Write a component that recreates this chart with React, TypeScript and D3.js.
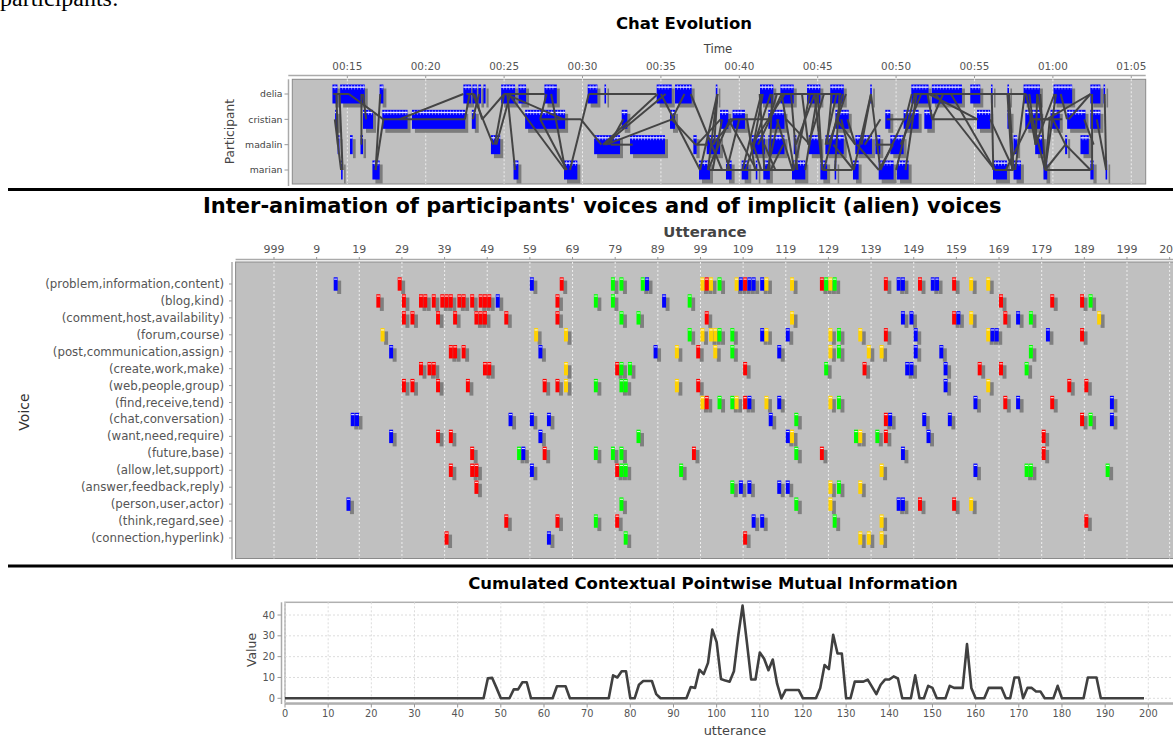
import React from "react";
import * as d3 from "d3";

const W = 1173;
const H = 738;
const SANS = "DejaVu Sans, sans-serif";

// ---------------- Chat Evolution ----------------
const participants = ["delia", "cristian", "madalin", "marian"];
const timeTickMinutes = [15, 20, 25, 30, 35, 40, 45, 50, 55, 60, 65];
const timeTickLabels = ["00:15", "00:20", "00:25", "00:30", "00:35", "00:40", "00:45", "00:50", "00:55", "01:00", "01:05"];

// utterance blocks [start minute, end minute]
const deliaBlocks: [number, number][] = [
  [14.05, 14.37], [14.54, 16.11], [17.06, 17.3], [22.4, 22.9], [22.98, 23.26], [23.36, 23.53], [23.68, 23.82],
  [24.81, 25.7], [25.91, 26.4], [27.57, 28.36], [30.33, 30.95], [31.4, 31.5], [34.73, 35.69], [35.9, 36.96],
  [38.5, 38.6], [41.32, 42.17], [42.62, 43.47], [44.32, 45.17], [45.8, 46.66], [48.35, 48.45], [50.97, 52.07],
  [52.28, 54.2], [54.73, 55.37], [56.05, 56.15], [57.1, 57.2], [58.13, 59.17], [60.04, 61.23], [62.39, 63.03],
  [63.23, 63.33],
];
const cristianBlocks: [number, number][] = [
  [14.22, 14.37], [16.0, 16.64], [17.23, 18.84], [19.12, 22.52], [22.94, 23.19], [26.34, 28.89], [32.5, 32.86],
  [35.58, 35.9], [38.77, 39.3], [39.57, 40.36], [41.85, 42.88], [46.13, 46.98], [49.31, 49.63], [50.48, 51.44],
  [51.8, 52.28], [55.16, 56.0], [57.1, 57.3], [58.24, 59.2], [59.85, 60.44], [60.91, 62.08], [62.39, 63.03],
];
const madalinBlocks: [number, number][] = [
  [14.38, 14.5], [15.17, 15.34], [15.84, 16.0], [24.16, 24.75], [30.74, 32.39], [33.03, 35.26], [37.07, 37.28],
  [37.92, 38.77], [40.78, 41.63], [41.85, 42.88], [43.47, 43.64], [44.43, 45.17], [45.49, 46.66], [47.4, 48.46],
  [48.68, 48.99], [49.63, 50.48], [57.49, 57.72], [58.87, 59.4], [60.78, 60.91], [61.76, 62.29],
];
const marianBlocks: [number, number][] = [
  [14.6, 14.7], [16.6, 17.06], [25.6, 25.91], [28.82, 29.67], [37.43, 38.13], [39.15, 39.51], [40.15, 40.57],
  [41.05, 41.15], [41.53, 41.95], [43.36, 44.21], [45.17, 45.6], [46.08, 46.18], [47.25, 47.61], [48.89, 49.84],
  [50.06, 50.8], [56.18, 57.07], [57.49, 57.96], [59.4, 59.64], [62.39, 62.6], [63.36, 63.46],
];

// reply links [minute A, participant A, minute B, participant B]
const replyLinks: [number, number, number, number][] = [
  [14.1, 0, 15.1, 0], [14.2, 1, 14.6, 3], [14.5, 0, 14.7, 3], [14.3, 0, 14.4, 2], [15.1, 0, 17.3, 1],
  [15.9, 0, 15.9, 2], [16.0, 0, 16.2, 1], [17.1, 0, 16.8, 3], [16.8, 3, 17.3, 1], [17.3, 1, 22.5, 1],
  [18.3, 1, 22.4, 0], [22.5, 1, 22.8, 0], [22.6, 0, 23.1, 0], [23.0, 0, 24.3, 2], [23.1, 0, 23.6, 1],
  [23.0, 1, 23.4, 0], [23.6, 1, 25.0, 0], [25.0, 0, 24.4, 2], [25.0, 0, 27.6, 0], [25.2, 0, 25.7, 3],
  [25.1, 0, 28.8, 1], [25.3, 0, 28.9, 3], [24.5, 2, 25.4, 0], [27.7, 0, 27.3, 1], [27.3, 1, 29.9, 1],
  [27.3, 1, 29.0, 3], [28.0, 0, 28.9, 3], [29.2, 3, 30.4, 0], [30.4, 0, 34.7, 0], [29.9, 1, 31.2, 2],
  [31.3, 2, 34.8, 0], [31.4, 2, 35.3, 0], [31.5, 2, 35.7, 1], [32.6, 1, 31.7, 2], [31.8, 2, 33.2, 2],
  [35.0, 0, 37.5, 3], [36.5, 0, 35.7, 1], [35.7, 1, 37.2, 2], [37.2, 2, 38.0, 2], [38.6, 0, 38.0, 3],
  [38.6, 0, 38.4, 2], [39.4, 1, 41.9, 1], [38.1, 3, 43.2, 3], [42.2, 0, 43.2, 0], [36.9, 0, 38.9, 3],
  [38.9, 1, 38.3, 3], [39.3, 1, 41.1, 3], [40.5, 1, 41.0, 3], [41.3, 0, 41.6, 3], [41.5, 0, 40.9, 2],
  [42.1, 0, 41.9, 3], [41.9, 1, 42.4, 0], [41.2, 2, 42.7, 0], [40.8, 2, 42.9, 0],
  [37.3, 2, 38.8, 1], [37.5, 3, 38.6, 0], [38.0, 3, 39.4, 1], [38.3, 2, 39.6, 1], [39.2, 3, 40.0, 1],
  [39.4, 3, 38.9, 2], [40.2, 3, 41.4, 0], [40.4, 3, 42.0, 0], [40.9, 2, 41.4, 3], [41.6, 2, 42.3, 3],
  [41.8, 3, 42.5, 1], [42.0, 3, 42.8, 2], [42.4, 1, 43.4, 3], [42.7, 0, 43.5, 3],
  [42.6, 0, 45.2, 0], [45.2, 0, 46.5, 0], [43.5, 3, 42.6, 3], [43.3, 0, 43.7, 3], [44.5, 0, 43.5, 3],
  [45.3, 3, 47.2, 3], [46.6, 0, 45.4, 3], [45.7, 2, 46.8, 0], [47.3, 3, 48.4, 0], [47.8, 2, 48.4, 0],
  [48.4, 0, 49.0, 3], [49.4, 1, 50.6, 1], [49.0, 3, 50.5, 1], [48.7, 2, 49.7, 2], [50.0, 3, 51.2, 0],
  [50.6, 3, 51.3, 0], [50.6, 1, 51.0, 0], [50.3, 2, 51.6, 0], [51.1, 0, 58.1, 0], [52.3, 1, 55.2, 1],
  [52.0, 0, 52.3, 1], [52.1, 0, 55.2, 1], [53.0, 0, 52.3, 1], [53.5, 0, 56.3, 3], [52.5, 0, 56.3, 3],
  [56.3, 3, 57.1, 3], [56.1, 0, 56.2, 3], [57.2, 0, 57.5, 3], [57.6, 3, 58.2, 0], [58.6, 1, 60.0, 1],
  [58.9, 2, 58.3, 0], [43.0, 1, 44.5, 2], [43.6, 2, 44.8, 0], [44.2, 3, 45.0, 0], [46.2, 1, 47.4, 2],
  [46.0, 2, 47.3, 3], [44.0, 0, 44.4, 2], [45.0, 0, 45.3, 3], [45.9, 0, 45.6, 2], [46.4, 0, 46.1, 3],
  [44.4, 2, 45.4, 0], [44.8, 0, 45.3, 3], [45.5, 2, 46.2, 0], [46.5, 1, 47.3, 3], [46.9, 1, 47.4, 2],
  [47.5, 2, 48.9, 3], [48.0, 2, 49.0, 1], [48.9, 3, 49.8, 2],
  [56.0, 1, 57.5, 3], [57.0, 3, 58.6, 1], [58.7, 1, 59.5, 3], [59.2, 0, 59.5, 3], [58.9, 2, 60.1, 0],
  [60.0, 1, 60.8, 2],
  [57.1, 0, 58.3, 0], [57.1, 0, 57.4, 3], [56.8, 3, 57.5, 3], [58.5, 1, 60.6, 1], [58.5, 0, 58.9, 2],
  [58.9, 2, 59.0, 0], [59.0, 0, 59.3, 1], [59.5, 3, 59.8, 1], [60.2, 0, 59.5, 3], [60.5, 0, 60.9, 1],
  [62.4, 0, 59.6, 1], [62.5, 0, 62.5, 3], [62.8, 1, 63.4, 3], [63.3, 0, 63.4, 3], [59.5, 3, 62.4, 3],
  [59.5, 3, 60.8, 2], [60.8, 2, 62.4, 3], [61.0, 1, 62.4, 0], [62.0, 1, 62.6, 2],
];

// ---------------- Inter-animation of voices ----------------
const voices = [
  "(problem,information,content)", "(blog,kind)", "(comment,host,availability)", "(forum,course)",
  "(post,communication,assign)", "(create,work,make)", "(web,people,group)", "(find,receive,tend)",
  "(chat,conversation)", "(want,need,require)", "(future,base)", "(allow,let,support)",
  "(answer,feedback,reply)", "(person,user,actor)", "(think,regard,see)", "(connection,hyperlink)",
];
const uttTickValues = [-1, 9, 19, 29, 39, 49, 59, 69, 79, 89, 99, 109, 119, 129, 139, 149, 159, 169, 179, 189, 199, 209];
const uttTickLabels = ["999", "9", "19", "29", "39", "49", "59", "69", "79", "89", "99", "109", "119", "129", "139", "149", "159", "169", "179", "189", "199", "209"];
const voiceColors: Record<string, string> = { b: "#0000ff", r: "#ff0000", g: "#00ff00", y: "#ffd200" };

// per voice: [utterance, participant colour code]
const voiceMarks: [number, string][][] = [
  [[13, "b"], [28, "r"], [59, "b"], [66, "r"], [78, "g"], [80, "g"], [85, "g"], [86, "b"], [99, "y"], [100, "r"], [101, "y"], [103, "g"], [107, "y"], [108, "b"], [109, "r"], [110, "b"], [111, "b"], [113, "b"], [114, "y"], [120, "y"], [127, "r"], [128, "g"], [129, "y"], [130, "g"], [142, "r"], [145, "b"], [146, "b"], [150, "r"], [153, "b"], [154, "b"], [158, "r"], [162, "y"], [166, "y"]],
  [[23, "r"], [29, "r"], [33, "r"], [34, "r"], [36, "r"], [38, "r"], [39, "r"], [40, "r"], [42, "r"], [43, "r"], [45, "r"], [47, "r"], [48, "r"], [49, "r"], [51, "b"], [65, "r"], [74, "g"], [78, "g"], [90, "b"], [96, "g"], [169, "r"], [181, "r"], [188, "r"], [190, "g"]],
  [[29, "r"], [31, "r"], [37, "r"], [41, "r"], [46, "r"], [47, "r"], [48, "r"], [53, "r"], [65, "r"], [80, "g"], [84, "g"], [100, "r"], [120, "y"], [146, "b"], [148, "b"], [158, "r"], [159, "b"], [162, "y"], [170, "r"], [173, "b"], [176, "g"], [192, "y"]],
  [[24, "y"], [60, "y"], [67, "y"], [96, "g"], [99, "y"], [101, "y"], [102, "y"], [103, "g"], [106, "g"], [113, "b"], [114, "y"], [119, "b"], [129, "y"], [131, "g"], [136, "y"], [142, "r"], [149, "b"], [166, "y"], [167, "b"], [168, "b"], [180, "b"], [188, "r"]],
  [[26, "b"], [40, "r"], [41, "r"], [43, "r"], [61, "b"], [88, "b"], [93, "y"], [98, "r"], [102, "y"], [106, "g"], [117, "b"], [129, "y"], [131, "g"], [138, "y"], [141, "y"], [149, "b"], [155, "b"], [176, "g"]],
  [[33, "r"], [35, "r"], [36, "r"], [48, "r"], [49, "r"], [67, "y"], [79, "r"], [80, "g"], [82, "g"], [109, "r"], [128, "g"], [137, "r"], [147, "b"], [148, "b"], [156, "b"], [164, "r"], [169, "r"], [175, "g"]],
  [[29, "r"], [31, "r"], [37, "r"], [44, "r"], [62, "r"], [65, "r"], [67, "y"], [74, "g"], [80, "g"], [81, "g"], [93, "y"], [98, "r"], [156, "b"], [166, "y"], [185, "r"], [189, "r"]],
  [[99, "y"], [100, "r"], [103, "g"], [106, "g"], [107, "y"], [109, "r"], [110, "b"], [114, "y"], [117, "b"], [129, "y"], [131, "g"], [163, "b"], [170, "r"], [173, "b"], [181, "r"], [195, "b"]],
  [[17, "b"], [18, "b"], [54, "b"], [59, "b"], [63, "b"], [115, "b"], [121, "g"], [142, "r"], [143, "b"], [151, "b"], [157, "b"], [188, "r"], [190, "g"], [195, "b"]],
  [[26, "b"], [37, "r"], [40, "r"], [61, "b"], [84, "g"], [119, "b"], [120, "y"], [135, "g"], [136, "y"], [140, "g"], [142, "r"], [152, "b"], [179, "r"]],
  [[45, "r"], [56, "g"], [57, "b"], [62, "r"], [74, "g"], [78, "g"], [80, "g"], [97, "r"], [121, "g"], [127, "r"], [146, "b"], [179, "r"]],
  [[40, "r"], [45, "r"], [46, "r"], [59, "b"], [79, "r"], [80, "g"], [81, "g"], [94, "g"], [141, "y"], [163, "b"], [175, "g"], [176, "g"], [194, "g"]],
  [[46, "r"], [106, "g"], [108, "b"], [110, "b"], [117, "b"], [119, "b"], [129, "y"], [131, "g"], [136, "y"]],
  [[16, "b"], [80, "g"], [121, "g"], [129, "y"], [145, "b"], [146, "b"], [150, "r"], [158, "r"], [162, "y"]],
  [[53, "r"], [65, "r"], [74, "g"], [79, "r"], [111, "b"], [113, "b"], [130, "g"], [141, "y"], [189, "r"]],
  [[39, "r"], [63, "b"], [81, "g"], [109, "r"], [136, "y"], [138, "y"], [141, "y"]],
];

// ---------------- Cumulated CPMI ----------------
const cpmiTicksX = [0, 10, 20, 30, 40, 50, 60, 70, 80, 90, 100, 110, 120, 130, 140, 150, 160, 170, 180, 190, 200];
const cpmiTicksY = [0, 10, 20, 30, 40];
const cpmiValues = [
  0, 0, 0, 0, 0, 0, 0, 0, 0, 0, 0, 0, 0, 0, 0, 0, 0, 0, 0, 0,
  0, 0, 0, 0, 0, 0, 0, 0, 0, 0, 0, 0, 0, 0, 0, 0, 0, 0, 0, 0,
  0, 0, 0, 0, 0, 0, 0, 9.6, 9.8, 5, 0, 0, 0, 4.3, 4.3, 7.7, 7.7, 0, 0, 0,
  0, 0, 0, 5.8, 5.8, 5.8, 0, 0, 0, 0, 0, 0, 0, 0, 0, 0, 11, 10, 13, 13,
  0, 0, 6.5, 8.3, 8.3, 8.3, 2, 0, 0, 0, 0, 0, 0, 0, 5.4, 5, 13.7, 11.6, 17, 33,
  27, 9.3, 8.5, 8, 13, 30, 44.5, 27, 9, 9, 22, 19, 13.5, 18.6, 7, 0, 4, 4, 4, 4,
  0, 0, 0, 0, 5, 16, 14, 30.5, 21.5, 21.5, 0, 0, 8, 8, 8, 9, 5.5, 2, 6.5, 9,
  9, 10.5, 9.5, 0, 0, 0, 11, 0, 0, 6, 5, 0, 0, 0, 6, 5, 5, 5, 26, 5,
  0, 0, 0, 5, 5, 5, 5, 0, 0, 10, 10, 0, 5, 5, 3.3, 3.3, 0, 0, 0, 6,
  0, 0, 0, 0, 0, 0, 10, 10, 10, 0, 0, 0, 0, 0, 0, 0, 0, 0, 0, 0,
];

export default function App() {
  // --- top chart scales
  const xT = d3.scaleLinear().domain([11.49, 65.92]).range([292.3, 1145.7]);
  const yT = d3.scalePoint<string>().domain(participants).range([94, 170]);
  const blockSets = [deliaBlocks, cristianBlocks, madalinBlocks, marianBlocks];
  const topPlot = { x0: 292.3, x1: 1145.7, y0: 79.3, y1: 184 };

  // --- middle chart scales
  const xM = d3.scaleLinear().domain([-10, 211]).range([235.6, 235.6 + 221 * 4.265]);
  const yM = d3.scalePoint<string>().domain(voices).range([284, 538]);
  const midPlot = { x0: 235.6, x1: 1185, y0: 262, y1: 558.5 };

  // --- bottom chart scales
  const xB = d3.scaleLinear().domain([0, 200]).range([285, 1148.3]);
  const yB = d3.scaleLinear().domain([0, 40]).range([698.3, 615]);
  const botPlot = { x0: 285, x1: 1190, y0: 602.3, y1: 703 };
  const linePath = d3
    .line<number>()
    .x((_, i) => xB(i))
    .y((d) => yB(d))(cpmiValues) as string;

  return (
    <svg
      width={W}
      height={H}
      style={{ position: "absolute", left: 0, top: 0, background: "#fff" }}
      fontFamily={SANS}
    >
      <rect x={0} y={0} width={W} height={H} fill="#fff" />
      <text x={0} y={6} fontFamily="Liberation Serif, serif" fontSize={24} fill="#000">
        participants:
      </text>

      {/* ================= TOP: Chat Evolution ================= */}
      <text x={684} y={29} textAnchor="middle" fontWeight="bold" fontSize={16.5} fill="#000">
        Chat Evolution
      </text>
      <text x={718} y={52.5} textAnchor="middle" fontSize={11.7} fill="#444">
        Time
      </text>
      {timeTickMinutes.map((m, i) => (
        <g key={"tt" + i}>
          <text x={xT(m)} y={70} textAnchor="middle" fontSize={10.4} fill="#555">
            {timeTickLabels[i]}
          </text>
          <line x1={xT(m)} x2={xT(m)} y1={75.5} y2={78} stroke="#999" />
        </g>
      ))}
      <line x1={topPlot.x0 - 4} x2={topPlot.x1} y1={75.5} y2={75.5} stroke="#aaa" strokeWidth={1.5} />
      <rect
        x={topPlot.x0}
        y={topPlot.y0}
        width={topPlot.x1 - topPlot.x0}
        height={topPlot.y1 - topPlot.y0}
        fill="#c0c0c0"
        stroke="#8a8a8a"
      />
      {timeTickMinutes.map((m, i) => (
        <line key={"tg" + i} x1={xT(m)} x2={xT(m)} y1={topPlot.y0} y2={topPlot.y1} stroke="#eeeeee" strokeDasharray="2,2" />
      ))}
      <line x1={288.5} x2={288.5} y1={topPlot.y0} y2={topPlot.y1 + 2} stroke="#aaa" strokeWidth={1.5} />
      {participants.map((p) => (
        <g key={"pl" + p}>
          <line x1={284.5} x2={288.5} y1={yT(p)!} y2={yT(p)!} stroke="#999" />
          <text x={282.5} y={yT(p)! + 3.3} textAnchor="end" fontSize={9.3} fill="#444">
            {p}
          </text>
        </g>
      ))}
      <text transform="translate(234,131.7) rotate(-90)" textAnchor="middle" fontSize={12.2} fill="#444">
        Participant
      </text>
      {/* utterance shadows */}
      {blockSets.map((blocks, pi) =>
        blocks.map(([a, b], bi) => (
          <rect
            key={"ts" + pi + "_" + bi}
            x={xT(a) + 3}
            y={yT(participants[pi])! - 9.5 + 4}
            width={Math.max(1.6, xT(b) - xT(a))}
            height={19}
            fill="#7c7c7c"
          />
        ))
      )}
      {blockSets.map((blocks, pi) =>
        blocks.map(([a, b], bi) => {
          const x = xT(a);
          const w = Math.max(1.6, xT(b) - xT(a));
          const y = yT(participants[pi])! - 9.5;
          const stripes = d3.range(x + 2.5, x + w - 1, 3);
          return (
            <g key={"tb" + pi + "_" + bi}>
              <rect x={x} y={y} width={w} height={19} fill="#0000ff" />
              {stripes.map((sx, si) => (
                <line key={si} x1={sx} x2={sx} y1={y + 0.5} y2={y + 5} stroke="#a8a8ff" strokeWidth={0.7} />
              ))}
              <rect x={x} y={y + 2} width={w} height={1.3} fill="#e8e8ff" />
            </g>
          );
        })
      )}
      {replyLinks.map(([t1, p1, t2, p2], i) => (
        <line
          key={"rl" + i}
          x1={xT(t1)}
          y1={yT(participants[p1])!}
          x2={xT(t2)}
          y2={yT(participants[p2])!}
          stroke="#444"
          strokeWidth={2}
        />
      ))}

      {/* separator */}
      <line x1={8} x2={W} y1={189.5} y2={189.5} stroke="#000" strokeWidth={3} />

      {/* ================= MIDDLE: voices ================= */}
      <text x={203} y={212.7} fontWeight="bold" fontSize={21} fill="#000">
        Inter-animation of participants' voices and of implicit (alien) voices
      </text>
      <text x={705} y={236.5} textAnchor="middle" fontWeight="bold" fontSize={14.9} fill="#444">
        Utterance
      </text>
      <line x1={midPlot.x0} x2={W} y1={259.5} y2={259.5} stroke="#aaa" strokeWidth={1.5} />
      {uttTickValues.map((v, i) => (
        <g key={"ut" + i}>
          <text x={xM(v)} y={253.3} textAnchor="middle" fontSize={11} fill="#555">
            {uttTickLabels[i]}
          </text>
          <line x1={xM(v)} x2={xM(v)} y1={257} y2={259.5} stroke="#999" />
        </g>
      ))}
      <rect
        x={midPlot.x0}
        y={midPlot.y0}
        width={midPlot.x1 - midPlot.x0}
        height={midPlot.y1 - midPlot.y0}
        fill="#c0c0c0"
        stroke="#8a8a8a"
      />
      {uttTickValues.map((v, i) => (
        <line key={"ug" + i} x1={xM(v)} x2={xM(v)} y1={midPlot.y0} y2={midPlot.y1} stroke="#eeeeee" strokeDasharray="2,2" />
      ))}
      <line x1={232} x2={232} y1={midPlot.y0} y2={midPlot.y1 + 1} stroke="#aaa" strokeWidth={1.5} />
      {voices.map((v) => (
        <g key={"vl" + v}>
          <line x1={229} x2={232} y1={yM(v)!} y2={yM(v)!} stroke="#999" />
          <text x={224} y={yM(v)! + 4} textAnchor="end" fontSize={11.8} fill="#555">
            {v}
          </text>
        </g>
      ))}
      <text transform="translate(29,412) rotate(-90)" textAnchor="middle" fontSize={14} fill="#333">
        Voice
      </text>
      {voiceMarks.map((marks, ri) => {
        const cy = yM(voices[ri])!;
        return (
          <g key={"vm" + ri}>
            {marks.map(([u], mi) => (
              <rect
                key={"s" + mi}
                x={xM(u) + 3.5}
                y={cy - 6.7 + 3.3}
                width={xM(u + 1) - xM(u) - 0.3}
                height={13.4}
                fill="#7f7f7f"
              />
            ))}
            {marks.map(([u, c], mi) => {
              const x = xM(u);
              const w = xM(u + 1) - xM(u) - 0.3;
              return (
                <g key={"m" + mi}>
                  <rect x={x} y={cy - 6.7} width={w} height={13.4} fill={voiceColors[c]} />
                  <rect x={x + 0.4} y={cy - 5.4} width={w - 0.8} height={1.1} fill="#ffffff" opacity={0.85} />
                </g>
              );
            })}
          </g>
        );
      })}

      {/* separator */}
      <line x1={8} x2={W} y1={566} y2={566} stroke="#000" strokeWidth={3} />

      {/* ================= BOTTOM: CPMI ================= */}
      <text x={713} y={589} textAnchor="middle" fontWeight="bold" fontSize={16.5} fill="#000">
        Cumulated Contextual Pointwise Mutual Information
      </text>
      <rect
        x={botPlot.x0}
        y={botPlot.y0}
        width={botPlot.x1 - botPlot.x0}
        height={botPlot.y1 - botPlot.y0}
        fill="#ffffff"
        stroke="#b0b0b0"
        strokeWidth={1.5}
      />
      {cpmiTicksX.map((v) => (
        <line key={"bgx" + v} x1={xB(v)} x2={xB(v)} y1={botPlot.y0} y2={botPlot.y1} stroke="#dcdcdc" strokeDasharray="2,2" />
      ))}
      {cpmiTicksY.map((v) => (
        <line key={"bgy" + v} x1={botPlot.x0} x2={botPlot.x1} y1={yB(v)} y2={yB(v)} stroke="#dcdcdc" strokeDasharray="2,2" />
      ))}
      <line x1={281.5} x2={281.5} y1={botPlot.y0} y2={botPlot.y1 + 1} stroke="#aaa" strokeWidth={1.5} />
      <line x1={botPlot.x0} x2={botPlot.x1} y1={704} y2={704} stroke="#aaa" strokeWidth={1.5} />
      {cpmiTicksY.map((v) => (
        <g key={"bty" + v}>
          <line x1={277.5} x2={281.5} y1={yB(v)} y2={yB(v)} stroke="#999" />
          <text x={275} y={yB(v) + 3.6} textAnchor="end" fontSize={9.8} fill="#555">
            {v}
          </text>
        </g>
      ))}
      {cpmiTicksX.map((v) => (
        <g key={"btx" + v}>
          <line x1={xB(v)} x2={xB(v)} y1={704} y2={707.5} stroke="#999" />
          <text x={xB(v)} y={716.7} textAnchor="middle" fontSize={9.8} fill="#555">
            {v}
          </text>
        </g>
      ))}
      <text transform="translate(256,650) rotate(-90)" textAnchor="middle" fontSize={12.4} fill="#444">
        Value
      </text>
      <text x={735} y={735} textAnchor="middle" fontSize={12.9} fill="#444">
        utterance
      </text>
      <path d={linePath} fill="none" stroke="#404040" strokeWidth={2.6} strokeLinejoin="round" />
    </svg>
  );
}
